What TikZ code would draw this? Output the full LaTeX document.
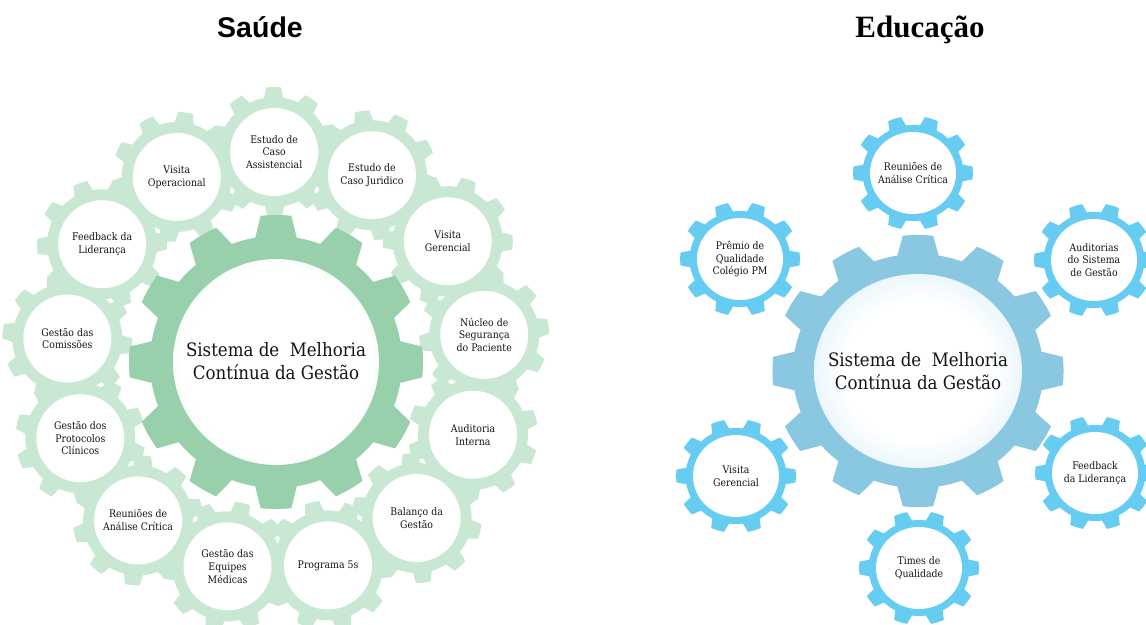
\documentclass[tikz,border=0pt]{standalone}
\usepackage{fontspec}
\setmainfont{DejaVu Serif Condensed}
\newfontfamily\titleSansFont{Liberation Sans}
\newfontfamily\titleSerifFont{Liberation Serif}

\definecolor{bigGreen}{HTML}{98D0AC}
\definecolor{smallGreen}{HTML}{C9E8D3}
\definecolor{greenEdge}{HTML}{D3ECDA}
\definecolor{bigBlue}{HTML}{8AC7E0}
\definecolor{smallBlue}{HTML}{66CCF2}
\definecolor{blueEdge}{HTML}{A6DAF3}

\pgfdeclareradialshading{greenGlow}{\pgfpoint{0bp}{0bp}}{color(0bp)=(white); color(22bp)=(white); color(50bp)=(greenEdge)}
\pgfdeclareradialshading{blueGlow}{\pgfpoint{0bp}{0bp}}{color(0bp)=(white); color(18bp)=(white); color(50bp)=(blueEdge)}

% teeth, root radius, tip radius, half base angle, half tip angle, rotation
\newcommand{\gearPath}[6]{%
  ({#6-#4}:#2)
  \foreach \gi in {1,...,#1}{
    -- ({#6+(\gi-1)*360/#1-#5}:#3)
    arc[start angle={#6+(\gi-1)*360/#1-#5}, end angle={#6+(\gi-1)*360/#1+#5}, radius=#3]
    -- ({#6+(\gi-1)*360/#1+#4}:#2)
    arc[start angle={#6+(\gi-1)*360/#1+#4}, end angle={#6+\gi*360/#1-#4}, radius=#2]
  } -- cycle
}

\tikzset{
  gearLabel/.style={inner sep=0pt, align=center, text=black!92,
    font=\fontsize{10.4}{12.8}\selectfont},
  centerLabel/.style={inner sep=0pt, align=center, text=black!92,
    font=\fontsize{18.5}{23.5}\selectfont},
  titleSans/.style={inner sep=0pt, anchor=base, font=\titleSansFont\bfseries\fontsize{28.5}{30}\selectfont},
  titleSerif/.style={inner sep=0pt, anchor=base, font=\titleSerifFont\bfseries\fontsize{31}{33}\selectfont}
}

\begin{document}
\begin{tikzpicture}[x=1pt, y=-1pt]
\useasboundingbox (0,0) rectangle (1146,624);
\fill[white] (0,0) rectangle (1146,624);

\node[titleSans] (ttlSaude) at (260,37) {Saúde};
\node[titleSerif] (ttlEducacao) at (920,37) {Educação};

% Saude
\coordinate (bigG) at (276,362);
\foreach \k in {0,...,12}{
  \coordinate (sg\k) at ([shift={({-90.5-\k*360/13}:210)}]bigG);
  \fill[smallGreen, shift={(sg\k)}] \gearPath{10}{55}{65}{10}{6.5}{-90.5-\k*360/13};
}
\foreach \txt [count=\k from 0] in {{Estudo de\\Caso\\Assistencial}, {Visita\\Operacional},
    {Feedback da\\Liderança}, {Gestão das\\Comissões}, {Gestão dos\\Protocolos\\Clínicos},
    {Reuniões de\\Análise Crítica}, {Gestão das\\Equipes\\Médicas}, {Programa 5s},
    {Balanço da\\Gestão}, {Auditoria\\Interna}, {Núcleo de\\Segurança\\do Paciente},
    {Visita\\Gerencial}, {Estudo de\\Caso Juridico}}{
  \fill[white] (sg\k) circle[radius=44];
  \node[gearLabel] (sgLabel\k) at (sg\k) {\txt};
}
\fill[bigGreen, shift={(bigG)}] \gearPath{12}{126}{147}{9.5}{6}{0};
\shade[shading=greenGlow] (bigG) circle[radius=103];
\node[centerLabel] (centerSaude) at ([yshift=1]bigG) {Sistema de~ Melhoria\\Contínua da Gestão};

% Educacao
\coordinate (bigB) at (918,371);
\fill[bigBlue, shift={(bigB)}, xscale=1.07] \gearPath{12}{117}{136}{9.5}{6}{0};
\shade[shading=blueGlow] (bigB) ellipse[x radius=104, y radius=97];
\node[centerLabel] (centerEducacao) at (bigB) {Sistema de~ Melhoria\\Contínua da Gestão};
\foreach \px/\py/\txt [count=\k] in {913/173/{Reuniões de\\Análise Crítica},
    740/259/{Prêmio de\\Qualidade\\Colégio PM}, 1094/260/{Auditorias\\do Sistema\\de Gestão},
    736/476/{Visita\\Gerencial}, 1095/473/{Feedback\\da Liderança}, 919/568/{Times de\\Qualidade}}{
  \coordinate (bg\k) at (\px,\py);
  \fill[smallBlue, shift={(bg\k)}, xscale=1.05] \gearPath{10}{48}{57}{10}{6.5}{0};
  \fill[white] (bg\k) ellipse[x radius=43, y radius=41];
  \node[gearLabel] (bgLabel\k) at (bg\k) {\txt};
}
\end{tikzpicture}
\end{document}
